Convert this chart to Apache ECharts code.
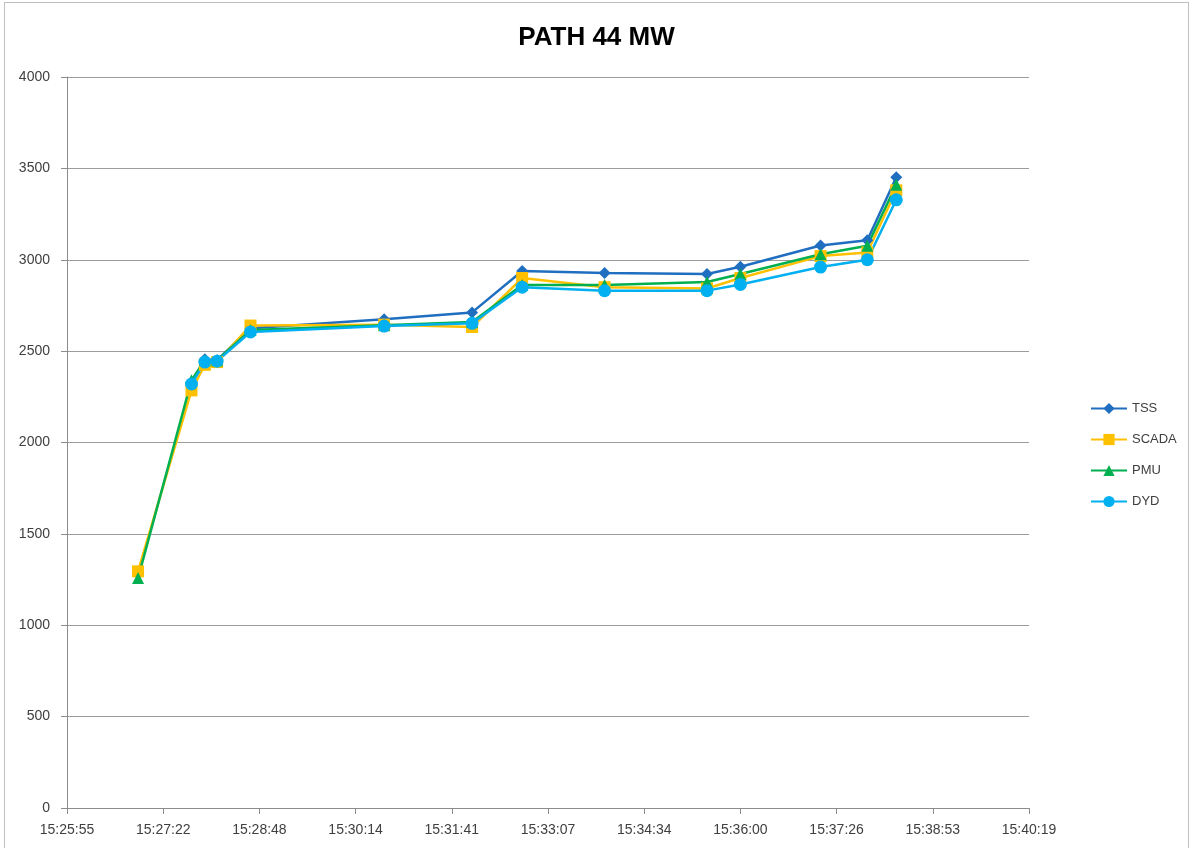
<!DOCTYPE html>
<html>
<head>
<meta charset="utf-8">
<script src="https://cdn.jsdelivr.net/npm/echarts@6/dist/echarts.min.js"></script>
<style>
  html, body { margin: 0; padding: 0; background: #fff; }
  #frame { position: absolute; left: 4px; top: 2px; width: 1185px; height: 850px; border: 1px solid #bfbfbf; box-sizing: border-box; }
  #chart { position: absolute; left: 0; top: 0; width: 1193px; height: 848px; }
</style>
</head>
<body>
<div id="frame"></div>
<div id="chart"></div>
<script>
// Sample times (HH:MM:SS) shared by all four sources
const times = ['15:26:59', '15:27:47', '15:27:59', '15:28:10', '15:28:40', '15:30:40', '15:31:59',
               '15:32:44', '15:33:58', '15:35:30', '15:36:00', '15:37:12', '15:37:54', '15:38:20'];

// Path 44 flow in MW by source (null = no sample at that time)
const tss   = [null, 2330, 2455, 2450, 2625, 2675, 2712, 2938, 2928, 2922, 2962, 3078, 3107, 3452];
const scada = [1295, 2285, 2425, 2440, 2640, 2645, 2632, 2900, 2850, 2843, 2900, 3020, 3040, 3380];
const pmu   = [1258, 2340, 2450, 2450, 2615, 2642, 2660, 2862, 2862, 2878, 2922, 3030, 3077, 3410];
const dyd   = [null, 2320, 2440, 2445, 2605, 2637, 2652, 2850, 2831, 2831, 2865, 2960, 3000, 3328];

// Date-axis ticks every 0.001 day (86.4 s), from 0.643 to 0.653 day
const xMinMs = 643 * 86400;
const xMaxMs = 653 * 86400;
const xStepMs = 86400;

function toMs(t) {
  const [h, m, s] = t.split(':').map(Number);
  return (h * 3600 + m * 60 + s) * 1000;
}
function fmtTime(ms) {
  let sec = Math.round(ms / 1000);
  const h = Math.floor(sec / 3600); sec -= h * 3600;
  const m = Math.floor(sec / 60); const s = sec - m * 60;
  const p = n => String(n).padStart(2, '0');
  return h + ':' + p(m) + ':' + p(s);
}
const pairs = arr => arr.map((v, i) => [toMs(times[i]), v]).filter(p => p[1] !== null);

const font = '"Liberation Sans", Arial, sans-serif';
const chart = echarts.init(document.getElementById('chart'));

function line(name, data, color, symbol, size) {
  return {
    name, type: 'line', data: pairs(data),
    symbol, symbolSize: size,
    lineStyle: { color, width: 2.5 },
    itemStyle: { color },
    emphasis: { disabled: true },
    animation: false
  };
}

chart.setOption({
  backgroundColor: 'transparent',
  title: {
    text: 'PATH 44 MW', left: 'center', top: 20,
    textStyle: { fontFamily: font, fontWeight: 'bold', fontSize: 26, color: '#000' }
  },
  legend: {
    orient: 'vertical', left: 1085, top: 397, itemGap: 18,
    itemWidth: 36, itemHeight: 14,
    textStyle: { fontFamily: font, fontSize: 13, color: '#404040' },
    data: ['TSS', 'SCADA', 'PMU', 'DYD']
  },
  grid: { left: 67, right: 164, top: 77, bottom: 40, containLabel: false },
  xAxis: {
    type: 'value', min: xMinMs, max: xMaxMs, interval: xStepMs,
    axisLine: { show: true, lineStyle: { color: '#8c8c8c', width: 1 } },
    axisTick: { show: true, length: 6, lineStyle: { color: '#8c8c8c' } },
    splitLine: { show: false },
    axisLabel: {
      formatter: v => fmtTime(v), showMinLabel: true, showMaxLabel: true,
      fontFamily: font, fontSize: 14, color: '#404040', margin: 15
    }
  },
  yAxis: {
    type: 'value', min: 0, max: 4000, interval: 500,
    axisLine: { show: true, lineStyle: { color: '#8c8c8c', width: 1 } },
    axisTick: { show: true, length: 6, lineStyle: { color: '#8c8c8c' } },
    splitLine: { show: true, lineStyle: { color: '#9c9c9c', width: 1 } },
    axisLabel: { formatter: v => String(v), fontFamily: font, fontSize: 14, color: '#404040', margin: 17 }
  },
  series: [
    line('TSS', tss, '#1f6ec0', 'diamond', 12),
    line('SCADA', scada, '#ffc000', 'rect', 12),
    line('PMU', pmu, '#00b050', 'triangle', 12),
    line('DYD', dyd, '#00b0f0', 'circle', 13)
  ]
});
</script>
</body>
</html>
